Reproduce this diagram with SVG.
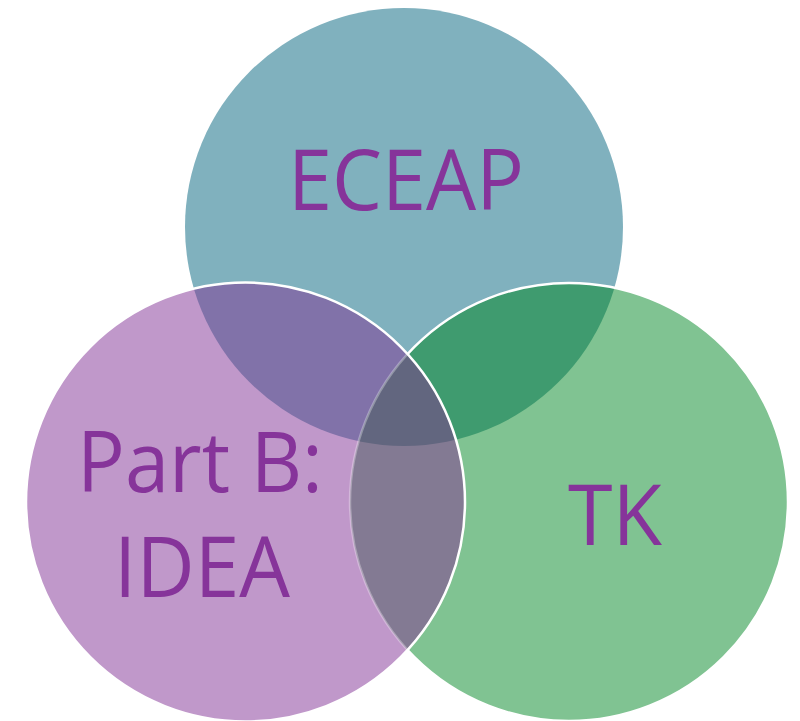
<svg xmlns="http://www.w3.org/2000/svg" width="800" height="721" viewBox="0 0 800 721">
<style>
.lbl{font-family:"Open Sans","Noto Sans","Liberation Sans",sans-serif;font-size:84px;fill:#86349A}
</style>
<defs>
<clipPath id="cTop"><circle cx="404" cy="227" r="219"/></clipPath>
<clipPath id="cLeft"><circle cx="245.5" cy="502" r="219.5"/></clipPath>
<clipPath id="cOutLeft"><path clip-rule="evenodd" d="M0 0H800V721H0Z M26 502a219.5 219.5 0 1 0 439 0a219.5 219.5 0 1 0 -439 0Z"/></clipPath>
</defs>
<g id="eceap">
<circle cx="404" cy="227" r="219" fill="#80B1BE"/>
</g>
<g id="tk">
<circle cx="569" cy="502" r="219" fill="#80C392"/>
</g>
<g id="idea">
<circle cx="245.5" cy="502" r="219.5" fill="#C098CA"/>
</g>
<g id="overlaps">
<circle cx="245.5" cy="502" r="219.5" fill="#8172A9" clip-path="url(#cTop)"/>
<circle cx="569" cy="502" r="219" fill="#3F9B6F" clip-path="url(#cTop)"/>
<circle cx="569" cy="502" r="219" fill="#837A93" clip-path="url(#cLeft)"/>
<g clip-path="url(#cTop)"><circle cx="569" cy="502" r="219" fill="#62667F" clip-path="url(#cLeft)"/></g>
</g>
<g id="outlines" fill="none" stroke="#FFFFFF" stroke-width="2.5">
<circle cx="569" cy="502" r="219" stroke-opacity="0.3" clip-path="url(#cLeft)"/>
<circle cx="569" cy="502" r="219" clip-path="url(#cOutLeft)"/>
<circle cx="245.5" cy="502" r="219.5"/>
</g>
<g id="labels">
<text class="lbl" x="288" y="210" textLength="236" lengthAdjust="spacingAndGlyphs">ECEAP</text>
<text class="lbl" x="77" y="492" textLength="246" lengthAdjust="spacingAndGlyphs">Part B:</text>
<text class="lbl" x="114" y="597" textLength="176" lengthAdjust="spacingAndGlyphs">IDEA</text>
<text class="lbl" x="568" y="545" textLength="94" lengthAdjust="spacingAndGlyphs">TK</text>
</g>
</svg>
